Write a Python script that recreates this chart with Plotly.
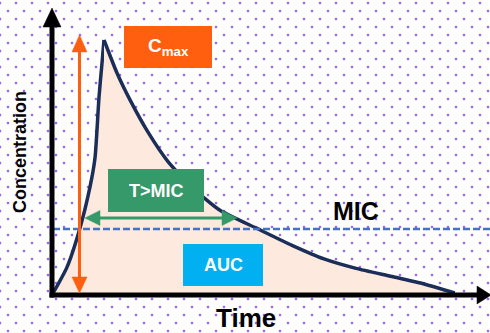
import numpy as np
import plotly.graph_objects as go

# ---------------- data ----------------
rise_time = [0.03, 0.375, 0.7, 0.95, 1.075, 1.175, 1.25, 1.3]
rise_conc = [0.12, 1.13, 2.66, 4.26, 5.39, 7.77, 9.1, 10.0]
decay_time = [1.3, 1.625, 1.95, 2.4, 2.9, 3.5, 4.2, 5.15, 6.0, 6.8, 7.6, 8.5, 9.3, 10.07]
decay_conc = [10.0, 8.71, 7.66, 6.4, 5.25, 4.25, 3.35, 2.62, 1.98, 1.45, 1.08, 0.76, 0.47, 0.12]
mic_level = 2.62
labels = ["Concentration", "Time", "MIC", "C<sub>max</sub>", "T&gt;MIC", "AUC"]

# ---------------- geometry helpers (pixel -> data) ----------------
W, H = 490, 333
X0, Y0 = 52, 296      # origin pixel
SX, SY = 40.0, 25.6   # px per unit


def tx(px):
    return (px - X0) / SX


def ty(py):
    return (Y0 - py) / SY


FONT = "Liberation Sans, Arial, sans-serif"
NAVY = "#1B2E58"
PEACH = "#FDE9DD"
ORANGE = "#FF5F0F"
GREEN = "#35996A"
BLUE = "#00B0F0"
MICBLUE = "#4472C4"
PURPLE = "#9966FF"

fig = go.Figure()

# dotted background pattern
dx, dy = [], []
for k in range(0, 42):
    py = 3 + 8 * k
    off = 8 * (k % 2)
    for px in range(off, W + 8, 16):
        dx.append(tx(px))
        dy.append(ty(py))
fig.add_trace(go.Scatter(x=dx, y=dy, mode="markers",
                         marker=dict(symbol="square", size=2.3, color=PURPLE, line_width=0),
                         hoverinfo="skip", showlegend=False))

# concentration curve (rise + decay) with fill
for t, c in ((rise_time, rise_conc), (decay_time, decay_conc)):
    fig.add_trace(go.Scatter(x=t, y=c, mode="lines", fill="tozeroy", fillcolor=PEACH,
                             line=dict(color=NAVY, width=3.5, shape="spline", smoothing=0.6),
                             hoverinfo="skip", showlegend=False))

shapes = []


def line(x0, y0, x1, y1, color, width, dash="solid"):
    shapes.append(dict(type="line", xref="x", yref="y", x0=tx(x0), y0=ty(y0), x1=tx(x1), y1=ty(y1),
                       line=dict(color=color, width=width, dash=dash), layer="above"))


def tri(pts, color):
    p = "M " + " L ".join(f"{tx(a):.4f},{ty(b):.4f}" for a, b in pts) + " Z"
    shapes.append(dict(type="path", xref="x", yref="y", path=p, fillcolor=color,
                       line=dict(color=color, width=0.5), layer="above"))


def rect(x0, y0, x1, y1, color):
    shapes.append(dict(type="rect", xref="x", yref="y", x0=tx(x0), y0=ty(y0), x1=tx(x1), y1=ty(y1),
                       fillcolor=color, line=dict(width=0), layer="above"))


# MIC dashed line
shapes.append(dict(type="line", xref="x", yref="y", x0=tx(53), x1=tx(W + 2), y0=mic_level, y1=mic_level,
                   line=dict(color=MICBLUE, width=2.5, dash="7px,3px"), layer="above"))

# axes
line(52, 297.5, 52, 24, "black", 5)
tri([(52, 8), (43, 27), (61, 27)], "black")
line(49.5, 295, 479, 295, "black", 5)
tri([(491, 295), (477, 286), (477, 304)], "black")

# orange Cmax arrow
line(79.5, 50, 79.5, 278, ORANGE, 3)
tri([(79.5, 35), (72, 52), (87, 52)], ORANGE)
tri([(79.5, 293), (72, 277), (87, 277)], ORANGE)

# green T>MIC arrow
line(98, 218, 224, 218, GREEN, 3)
tri([(85, 218), (100, 210.5), (100, 225.5)], GREEN)
tri([(237, 218), (222, 210.5), (222, 225.5)], GREEN)

# boxes
rect(124, 26, 212, 68, ORANGE)
rect(108, 169, 204, 212, GREEN)
rect(183, 244, 263, 286, BLUE)

annotations = [
    dict(x=tx(20), y=ty(152), text="<b>" + labels[0] + "</b>", textangle=-90, showarrow=False,
         font=dict(family=FONT, size=18, color="black"), xanchor="center", yanchor="middle"),
    dict(x=tx(246), y=ty(318), text="<b>" + labels[1] + "</b>", showarrow=False,
         font=dict(family=FONT, size=26, color="black"), xanchor="center", yanchor="middle"),
    dict(x=tx(356), y=ty(211), text="<b>" + labels[2] + "</b>", showarrow=False,
         font=dict(family=FONT, size=25, color="black"), xanchor="center", yanchor="middle"),
    dict(x=tx(168), y=ty(47), text="<b>" + labels[3] + "</b>", showarrow=False,
         font=dict(family=FONT, size=19, color="white"), xanchor="center", yanchor="middle"),
    dict(x=tx(156), y=ty(191), text="<b>" + labels[4] + "</b>", showarrow=False,
         font=dict(family=FONT, size=18, color="white"), xanchor="center", yanchor="middle"),
    dict(x=tx(223), y=ty(265), text="<b>" + labels[5] + "</b>", showarrow=False,
         font=dict(family=FONT, size=18, color="white"), xanchor="center", yanchor="middle"),
]

fig.update_layout(
    width=W, height=H, autosize=False,
    margin=dict(l=0, r=0, t=0, b=0, pad=0),
    paper_bgcolor="white", plot_bgcolor="white",
    xaxis=dict(range=[tx(0), tx(W)], visible=False, fixedrange=True),
    yaxis=dict(range=[ty(H), ty(0)], visible=False, fixedrange=True),
    shapes=shapes, annotations=annotations, showlegend=False,
)

fig.write_html("out.html", config=dict(displayModeBar=False),
               post_script="document.body.style.margin='0';document.body.style.overflow='hidden';")
